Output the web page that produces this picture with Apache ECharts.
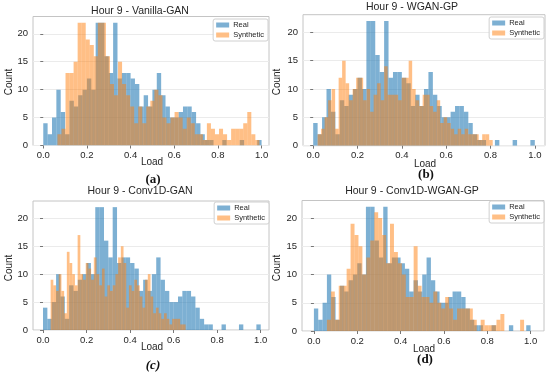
<!DOCTYPE html>
<html><head><meta charset="utf-8">
<script src="https://cdn.jsdelivr.net/npm/echarts@6/dist/echarts.min.js"></script>
<style>html,body{margin:0;padding:0;background:#fff}#c{width:550px;height:372px}</style>
</head><body><div id="c"></div>
<script>
// ---------- data ----------
const panelTitles = ['Hour 9 - Vanilla-GAN', 'Hour 9 - WGAN-GP', 'Hour 9 - Conv1D-GAN', 'Hour 9 - Conv1D-WGAN-GP'];
const panelTags = ['(a)', '(b)', '(c)', '(d)'];
const seriesNames = ['Real', 'Synthetic'];
const xAxisName = 'Load';
const yAxisName = 'Count';
const xTicks = [0.0, 0.2, 0.4, 0.6, 0.8, 1.0];
const yTicks = [0, 5, 10, 15, 20];

// Real data histogram (50 bins over its range)
const realRange = [0.0, 1.0];
const realCounts = [
  4, 2, 5, 10, 6, 2, 8, 7, 9, 10,
  12, 10, 22, 22, 16, 13, 22, 12, 13, 13,
  12, 11, 7, 9, 7, 10, 13, 9, 7, 5,
  5, 6, 7, 7, 6, 4, 2, 1, 1, 0,
  0, 1, 0, 0, 0, 1, 0, 0, 0, 1
];

// Synthetic histograms (50 bins each over their own range)
const synthRangeA = [0.065, 0.99];
const synthCountsA = [
  2, 3, 13, 13, 15, 22, 22, 19, 18, 16,
  22, 22, 16, 11, 9, 15, 11, 9, 7, 4,
  7, 4, 7, 8, 10, 9, 5, 4, 5, 6,
  5, 3, 5, 4, 2, 2, 1, 4, 3, 2,
  3, 2, 1, 3, 3, 3, 4, 6, 2, 1
];
const synthRangeB = [0.02, 0.81];
const synthCountsB = [
  2, 3, 5, 8, 10, 3, 12, 15, 11, 8,
  10, 12, 12, 8, 10, 6, 9, 11, 8, 14,
  9, 9, 9, 8, 12, 12, 15, 10, 8, 7,
  9, 9, 7, 6, 8, 4, 5, 4, 3, 2,
  3, 2, 3, 2, 2, 2, 1, 2, 2, 1
];
const synthRangeC = [0.035, 0.655];
const synthCountsC = [
  9, 8, 7, 10, 7, 3, 14, 12, 10, 8,
  17, 10, 9, 12, 11, 9, 13, 10, 8, 11,
  6, 8, 7, 8, 10, 13, 15, 12, 4, 8,
  7, 9, 8, 6, 4, 9, 10, 6, 3, 4,
  3, 2, 3, 2, 1, 2, 2, 2, 1, 1
];
const synthRangeD = [0.06, 0.97];
const synthCountsD = [
  2, 7, 2, 8, 8, 11, 19, 17, 15, 10,
  13, 16, 21, 20, 17, 12, 19, 14, 12, 10,
  6, 6, 15, 8, 6, 6, 5, 7, 5, 4,
  6, 4, 2, 4, 4, 4, 4, 2, 0, 2,
  1, 1, 1, 2, 3, 0, 0, 0, 0, 2
];

// ---------- build ----------
function toBins(range, counts) {
  const w = (range[1] - range[0]) / counts.length;
  return counts.map((c, i) => [range[0] + i * w, range[0] + (i + 1) * w, c]);
}
const synthSets = [
  [synthRangeA, synthCountsA],
  [synthRangeB, synthCountsB],
  [synthRangeC, synthCountsC],
  [synthRangeD, synthCountsD]
];

const FONT = '"Liberation Sans", Arial, sans-serif';
const TXT = '#262626';
const BLUE = 'rgba(31,119,180,0.58)';
const ORANGE = 'rgba(255,127,14,0.5)';

// layout of the four panels
const layout = [
  { left: 33, top: 16.5, width: 236, height: 129, xmin: -0.047, xmax: 1.034, tx: 140, ty: 11, ly: 162.5, tagY: 180, cx: 9.5, cy: 82, lgRight: 282, lgTop: 19 },
  { left: 303, top: 14.7, width: 242, height: 131, xmin: -0.046, xmax: 1.046, tx: 412, ty: 7.5, ly: 164, tagY: 175, cx: 277.5, cy: 82, lgRight: 6, lgTop: 17 },
  { left: 33, top: 201, width: 236, height: 129, xmin: -0.046, xmax: 1.038, tx: 140, ty: 191.5, ly: 347, tagY: 366, cx: 9.5, cy: 268, lgRight: 281, lgTop: 202 },
  { left: 302, top: 200.5, width: 242, height: 130.5, xmin: -0.055, xmax: 1.062, tx: 412, ty: 191.5, ly: 349, tagY: 360, cx: 277.5, cy: 268, lgRight: 6, lgTop: 201 }
];

function renderBin(params, api) {
  const lo = api.value(0), hi = api.value(1), n = api.value(2);
  if (!n) return null;
  const p0 = api.coord([lo, n]);
  const p1 = api.coord([hi, 0]);
  return {
    type: 'rect',
    shape: { x: p0[0], y: p0[1], width: p1[0] - p0[0], height: p1[1] - p0[1] },
    style: { fill: api.visual('color') }
  };
}

const grids = [], xAxes = [], yAxes = [], series = [], legends = [], graphics = [];
const realBins = toBins(realRange, realCounts);

layout.forEach((L, i) => {
  grids.push({ left: L.left, top: L.top, width: L.width, height: L.height, show: true, borderColor: '#c4c4c4', borderWidth: 1, backgroundColor: '#fff' });
  xAxes.push({
    type: 'value', gridIndex: i, min: L.xmin, max: L.xmax,
    axisLine: { show: false },
    axisTick: { show: true, length: 3, lineStyle: { color: '#777' }, customValues: xTicks },
    axisLabel: { customValues: xTicks, formatter: v => v.toFixed(1), fontFamily: FONT, fontSize: 9.5, color: TXT, margin: 5 },
    splitLine: { show: false }
  });
  yAxes.push({
    type: 'value', gridIndex: i, min: 0, max: 23.1, interval: 5,
    axisLine: { show: false },
    axisTick: { show: true, length: 3, lineStyle: { color: '#777' }, customValues: yTicks },
    axisLabel: { customValues: yTicks, fontFamily: FONT, fontSize: 9.5, color: TXT, margin: 5 },
    splitLine: { show: true, lineStyle: { color: '#ebebeb', width: 1 } }
  });
  series.push({
    type: 'custom', name: seriesNames[0], xAxisIndex: i, yAxisIndex: i,
    renderItem: renderBin, encode: { x: [0, 1], y: 2 }, clip: true,
    itemStyle: { color: BLUE }, data: realBins
  });
  series.push({
    type: 'custom', name: seriesNames[1], xAxisIndex: i, yAxisIndex: i,
    renderItem: renderBin, encode: { x: [0, 1], y: 2 }, clip: true,
    itemStyle: { color: ORANGE }, data: toBins(synthSets[i][0], synthSets[i][1])
  });
  legends.push({
    data: seriesNames, orient: 'vertical', right: L.lgRight, top: L.lgTop,
    icon: 'rect', itemWidth: 13, itemHeight: 5, itemGap: 2,
    padding: [2, 4, 2, 3], borderColor: '#d0d0d0', borderWidth: 1, borderRadius: 2,
    backgroundColor: 'rgba(255,255,255,0.85)', selectedMode: false,
    textStyle: { fontFamily: FONT, fontSize: 7.5, color: TXT, padding: [0, 0, 0, -1] }
  });
  graphics.push({ type: 'text', x: L.tx, y: L.ty, style: { text: panelTitles[i], font: '10.5px ' + FONT, fill: TXT, align: 'center', verticalAlign: 'middle' } });
  graphics.push({ type: 'text', x: L.left + L.width / 2 + 1, y: L.ly, style: { text: xAxisName, font: '10px ' + FONT, fill: TXT, align: 'center', verticalAlign: 'middle' } });
  graphics.push({ type: 'text', x: L.cx, y: L.cy, rotation: Math.PI / 2, style: { text: yAxisName, font: '10px ' + FONT, fill: TXT, align: 'center', verticalAlign: 'middle' } });
  graphics.push({ type: 'text', x: L.left + L.width / 2 + 2, y: L.tagY, style: { text: panelTags[i], font: (i === 2 ? 'italic ' : '') + 'bold 13px "Liberation Serif", "DejaVu Serif", serif', fill: '#111', align: 'center', verticalAlign: 'middle' } });
});

const chart = echarts.init(document.getElementById('c'), null, { renderer: 'canvas' });
chart.setOption({
  animation: false,
  backgroundColor: '#fff',
  grid: grids, xAxis: xAxes, yAxis: yAxes, series: series, legend: legends, graphic: graphics
});
</script></body></html>
